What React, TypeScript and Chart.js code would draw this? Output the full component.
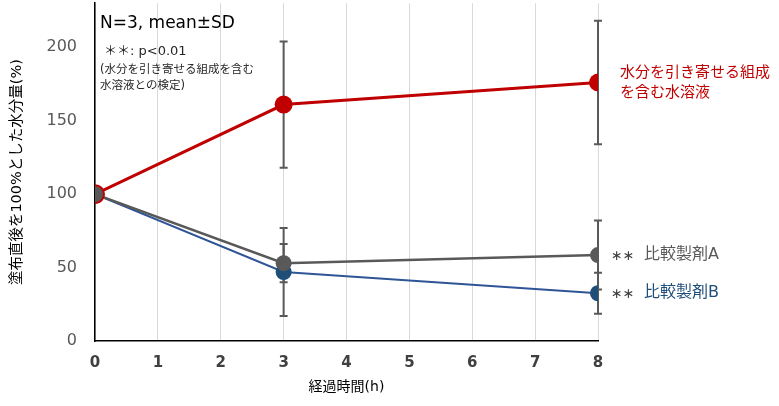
import React, { useEffect, useRef } from "react";
import { Chart, registerables, ChartConfiguration, Plugin } from "chart.js";

Chart.register(...registerables);

// elapsed hours and measured moisture (% of value right after application)
const hours = [0, 3, 8];
const solutionMean = [100, 161, 176];
const solutionSd = [0, 43, 42];
const productAMean = [100, 53, 58.5];
const productASd = [0, 13, 23.5];
const productBMean = [100, 47, 32.5];
const productBSd = [0, 30, 14];

const solutionLabel = ["水分を引き寄せる組成", "を含む水溶液"];
const productALabel = "比較製剤A";
const productBLabel = "比較製剤B";
const noteLines = ["N=3, mean±SD", "＊＊: p<0.01", "(水分を引き寄せる組成を含む", "水溶液との検定)"];
const yTicks = [0, 50, 100, 150, 200];

const RED = "#C00000";
const GREY = "#595959";
const BLUE_LINE = "#2F5597";
const BLUE = "#1F4E79";
const FONT = "'DejaVu Sans', 'Noto Sans CJK JP', sans-serif";

const means = [solutionMean, productAMean, productBMean];
const sds = [solutionSd, productASd, productBSd];

// SD whiskers, drawn under the markers
const errorBars: Plugin<"line"> = {
  id: "errorBars",
  beforeDatasetsDraw(chart) {
    const { ctx } = chart;
    const x = chart.scales.x;
    const y = chart.scales.y;
    ctx.save();
    ctx.strokeStyle = GREY;
    ctx.lineWidth = 2;
    means.forEach((m, i) => {
      m.forEach((v, j) => {
        const sd = sds[i][j];
        if (!sd) return;
        const px = x.getPixelForValue(hours[j]);
        const top = y.getPixelForValue(v + sd);
        const bot = y.getPixelForValue(v - sd);
        ctx.beginPath();
        ctx.moveTo(px, top);
        ctx.lineTo(px, bot);
        ctx.moveTo(px - 4, top);
        ctx.lineTo(px + 4, top);
        ctx.moveTo(px - 4, bot);
        ctx.lineTo(px + 4, bot);
        ctx.stroke();
      });
    });
    ctx.restore();
  },
};

const labels: Plugin<"line"> = {
  id: "labels",
  afterDraw(chart) {
    const { ctx, chartArea } = chart;
    const x = chart.scales.x;
    const y = chart.scales.y;
    const last = hours.length - 1;
    const px = x.getPixelForValue(hours[last]);
    ctx.save();
    ctx.textBaseline = "middle";
    ctx.textAlign = "left";

    ctx.font = `15px ${FONT}`;
    ctx.fillStyle = RED;
    const ry = y.getPixelForValue(solutionMean[last]);
    ctx.fillText(solutionLabel[0], px + 22, ry - 9);
    ctx.fillText(solutionLabel[1], px + 22, ry + 11);

    const ay = y.getPixelForValue(productAMean[last]);
    const by = y.getPixelForValue(productBMean[last]);
    ctx.fillStyle = "#404040";
    ctx.font = `14px ${FONT}`;
    ctx.fillText("∗∗", px + 13, ay + 1);
    ctx.fillText("∗∗", px + 13, by + 1);
    ctx.font = `16px ${FONT}`;
    ctx.fillStyle = GREY;
    ctx.fillText(productALabel, px + 46, ay);
    ctx.fillStyle = BLUE;
    ctx.fillText(productBLabel, px + 46, by);

    ctx.fillStyle = "#000";
    ctx.font = `17px ${FONT}`;
    ctx.fillText(noteLines[0], chartArea.left + 5, 24);
    ctx.fillStyle = "#262626";
    ctx.font = `13px ${FONT}`;
    ctx.fillText(noteLines[1], chartArea.left + 9, 52);
    ctx.font = `11.5px ${FONT}`;
    ctx.fillText(noteLines[2], chartArea.left + 5, 70);
    ctx.fillText(noteLines[3], chartArea.left + 5, 86);
    ctx.restore();
  },
};

const App = () => {
  const canvasRef = useRef<HTMLCanvasElement | null>(null);
  const chartRef = useRef<Chart<"line", number[], number> | null>(null);

  useEffect(() => {
    const ctx = canvasRef.current?.getContext("2d");
    if (chartRef.current) chartRef.current.destroy();
    if (!ctx) return;

    const config: ChartConfiguration<"line", number[], number> = {
      type: "line",
      data: {
        labels: hours,
        datasets: [
          {
            data: hours.map((h, i) => ({ x: h, y: solutionMean[i] })) as any,
            borderColor: RED,
            borderWidth: 3,
            pointRadius: 9,
            pointBackgroundColor: [GREY, RED, RED],
            pointBorderColor: RED,
            pointBorderWidth: [2, 0, 0],
          },
          {
            data: hours.map((h, i) => ({ x: h, y: productAMean[i] })) as any,
            borderColor: GREY,
            borderWidth: 2.5,
            pointRadius: [0, 8, 8],
            pointBackgroundColor: GREY,
            pointBorderWidth: 0,
          },
          {
            data: hours.map((h, i) => ({ x: h, y: productBMean[i] })) as any,
            borderColor: BLUE_LINE,
            borderWidth: 2,
            pointRadius: [0, 8, 8],
            pointBackgroundColor: BLUE,
            pointBorderWidth: 0,
          },
        ],
      },
      options: {
        animation: false,
        responsive: true,
        maintainAspectRatio: false,
        layout: { autoPadding: false, padding: { right: 181, top: 3, left: 0, bottom: 4 } },
        plugins: {
          legend: { display: false },
          tooltip: { enabled: false },
        },
        scales: {
          x: {
            type: "linear",
            min: 0,
            max: 8,
            afterFit: (axis) => {
              axis.height = 61;
            },
            grid: { color: "#d9d9d9", lineWidth: 1, drawTicks: false },
            border: { display: true, color: "#000", width: 1.5 },
            ticks: {
              stepSize: 1,
              padding: 18,
              color: "#404040",
              font: { family: FONT, size: 15, weight: "bold", lineHeight: 0.6 },
            },
            title: {
              display: true,
              text: "経過時間(h)",
              color: "#000",
              padding: { top: 0, bottom: 6 },
              font: { family: FONT, size: 14 },
            },
          },
          y: {
            min: 0,
            max: 230,
            afterBuildTicks: (axis) => {
              axis.ticks = yTicks.map((v) => ({ value: v }));
            },
            afterFit: (axis) => {
              axis.width = 95;
            },
            grid: {
              display: true,
              drawOnChartArea: false,
              drawTicks: true,
              tickLength: 18,
              color: "transparent",
              tickColor: "transparent",
            },
            border: { display: true, color: "#000", width: 1.5 },
            ticks: {
              padding: 0,
              color: GREY,
              font: { family: FONT, size: 16, lineHeight: 0.4 },
            },
            title: {
              display: true,
              text: "塗布直後を100%とした水分量(%)",
              color: "#000",
              padding: { top: 9, bottom: 0 },
              font: { family: FONT, size: 14.5 },
            },
          },
        },
      },
      plugins: [errorBars, labels],
    };

    chartRef.current = new Chart(ctx, config);
    return () => {
      if (chartRef.current) chartRef.current.destroy();
      chartRef.current = null;
    };
  }, []);

  return (
    <div style={{ position: "fixed", left: 0, top: 0, width: 779, height: 406, background: "#fff" }}>
      <canvas ref={canvasRef} />
    </div>
  );
};

export default App;
